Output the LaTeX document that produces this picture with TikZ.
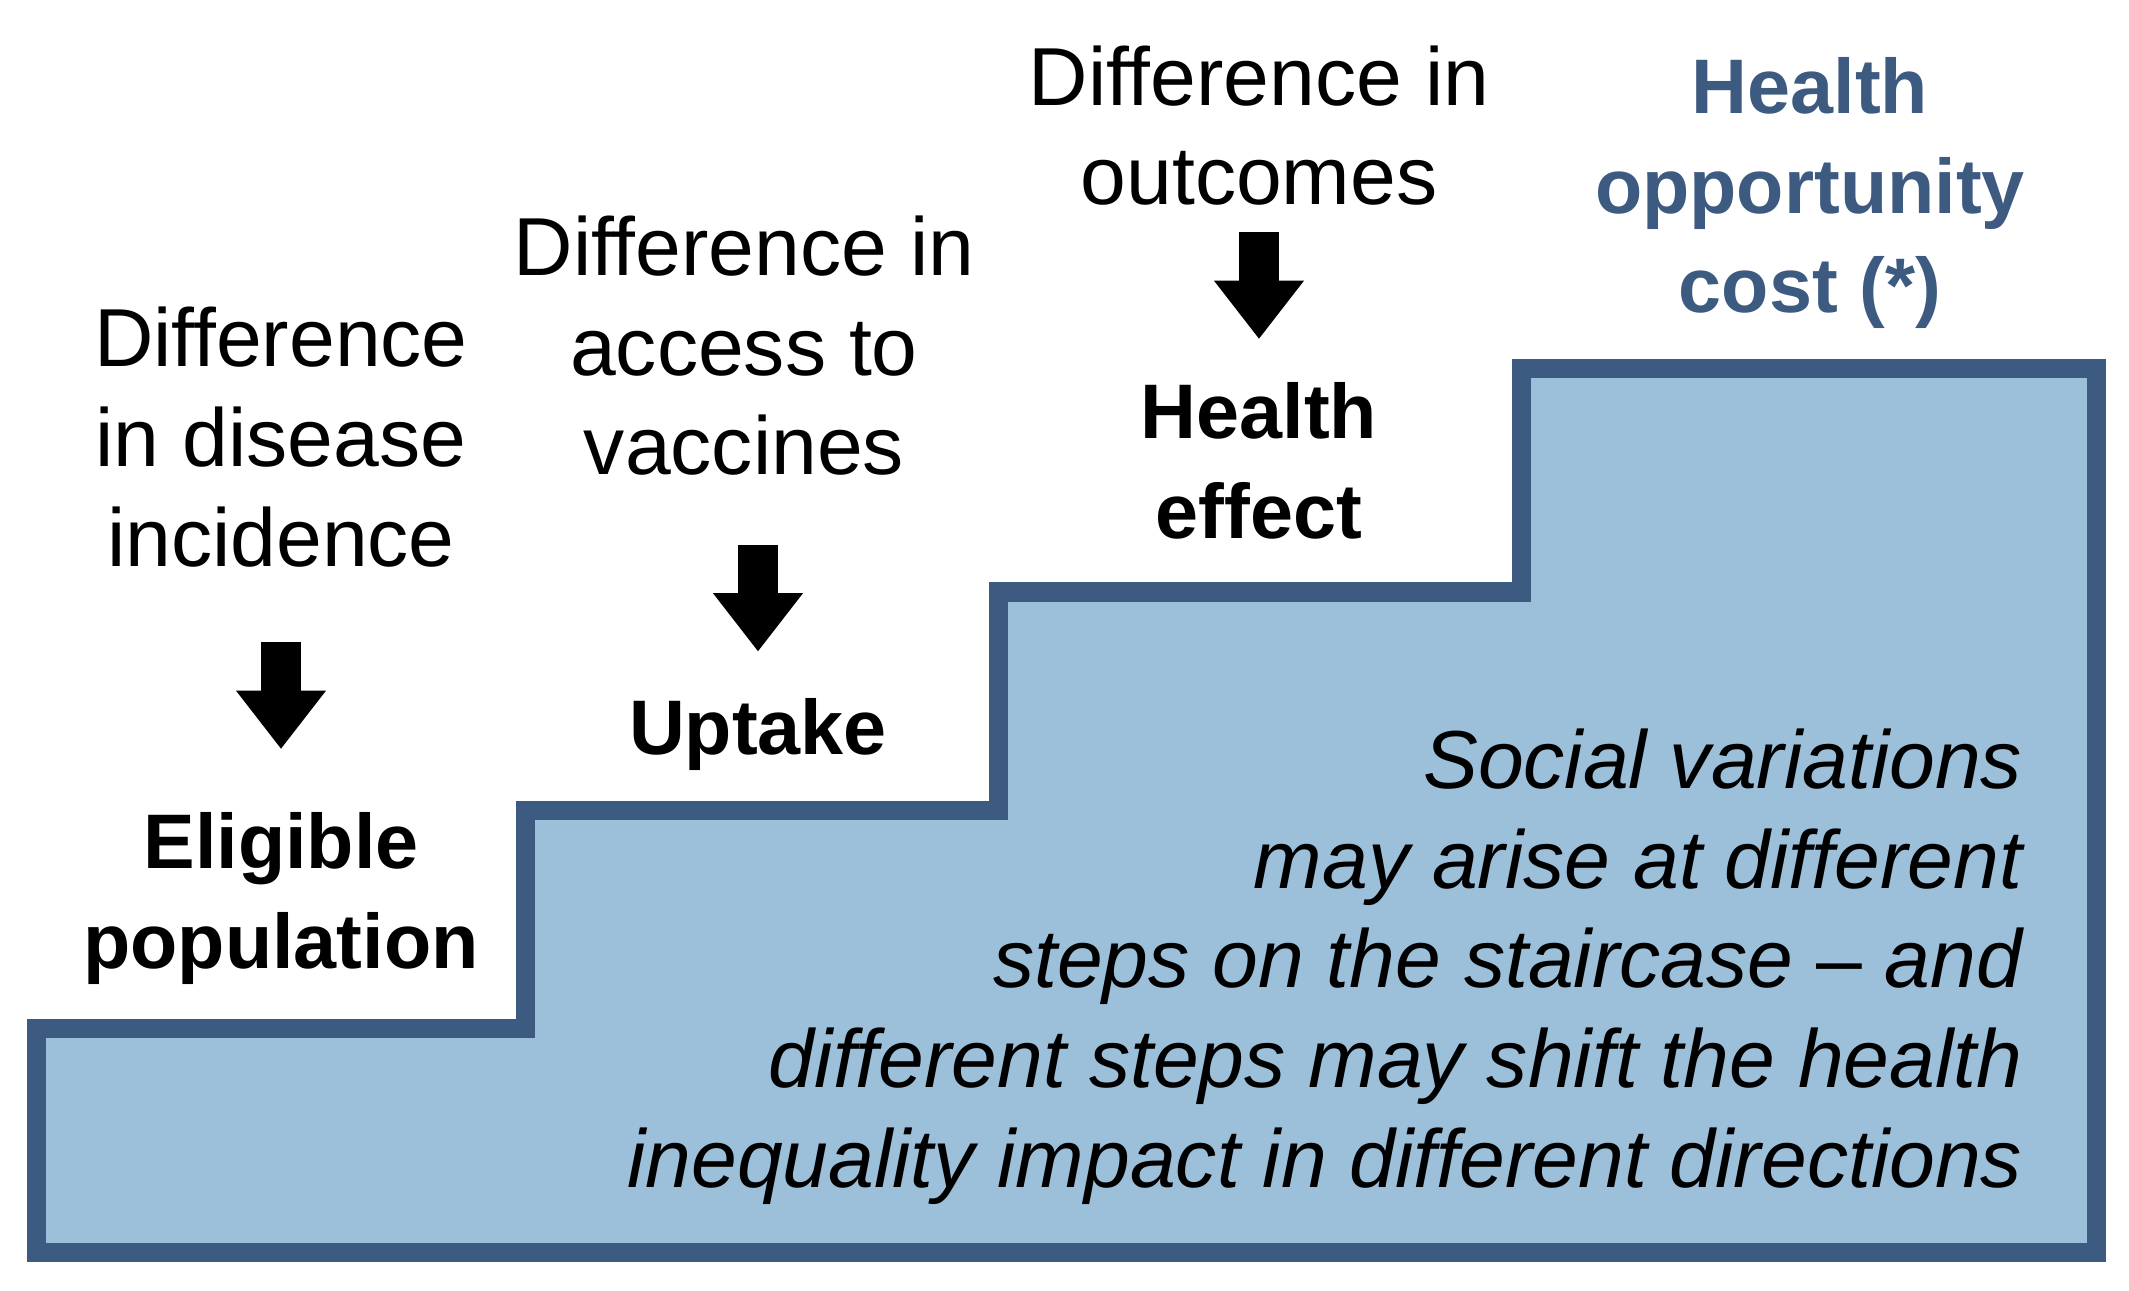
\documentclass[tikz,border=0pt]{standalone}
\usepackage{fontspec}
\setmainfont{Liberation Sans}
\usetikzlibrary{arrows.meta}
\definecolor{stairline}{HTML}{3D5A80}
\definecolor{stairfill}{HTML}{9CBFDA}
\tikzset{x=0.01cm, y=-0.01cm,
    every node/.style={
        inner sep=0pt,
        align=center},
    txt/.style={
        font=\fontsize{23.4pt}{28.3pt}\selectfont},
    lbl/.style={
        font=\fontsize{22pt}{28.3pt}\selectfont\bfseries},
    note/.style={
        align=right,
        font=\fontsize{23.4pt}{28.3pt}\selectfont\itshape},
    stair/.style={
        draw=stairline,
        fill=stairfill,
        line width=0.19cm,
        line join=miter},
    arr/.style={
        line width=0.4cm,
        -{Triangle[width=0.9cm,length=0.58cm,line width=0pt]}}}

\begin{document}
\begin{tikzpicture}
        \useasboundingbox (0,0) rectangle (2129,1291);
        \draw[stair] (36.5,1028.5) -- (525.5,1028.5) -- (525.5,810.5) -- (998.5,810.5)
            -- (998.5,592) -- (1521.5,592) -- (1521.5,368.5) -- (2096.5,368.5)
            -- (2096.5,1252.5) -- (36.5,1252.5) -- cycle;

        % base = last line
        \node[txt, anchor=base] (d1) at (281,566) {Difference\\in disease\\incidence};
        \node[lbl, anchor=base] (e1) at (281,968) {Eligible\\population};
        \node[txt, anchor=base] (d2) at (744,475) {Difference in\\access to\\vaccines};
        \node[lbl, anchor=base] (u2) at (758,754) {Uptake};
        \node[txt, anchor=base] (d3) at (1259,205) {Difference in\\outcomes};
        \node[lbl, anchor=base] (h3) at (1259,538) {Health\\effect};
        \node[lbl, anchor=base, text=stairline] (oc) at (1810,313) {Health\\opportunity\\cost (*)};
        \node[note, anchor=base east] (sv) at (2023,1187) {Social variations\\may arise at different\\steps on the staircase \textup{--} and\\different steps may shift the health\\inequality impact in different directions};

        \draw[arr, shorten <=0.74cm, shorten >=0.63cm] (d1) -- (e1);
        \draw[arr, shorten <=0.68cm, shorten >=0.46cm] (d2.south -| u2.north) -- (u2.north);
        \draw[arr, shorten <=0.25cm, shorten >=0.43cm] (d3) -- (h3);
    \end{tikzpicture}
\end{document}
